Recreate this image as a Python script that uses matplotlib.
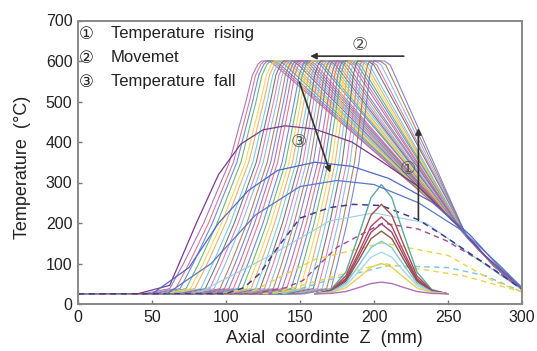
import numpy as np
import matplotlib
matplotlib.use("Agg")
import matplotlib.pyplot as plt

plt.rcParams['font.family'] = ['Liberation Sans', 'DejaVu Sans']

# ---- data ----
ambient = 25

# moving-source curves (②), left to right
move_foot = [62, 66, 69, 73, 76, 79, 83, 86, 89, 92, 96, 99, 102, 105, 108, 111, 114, 117,
             120, 123, 126, 129, 132, 135, 138, 141, 144, 147, 150, 153, 156, 159, 162, 165, 168, 171]
move_top_start = [124, 126, 128, 130, 133, 135, 137, 139, 141, 143, 145, 147, 149, 151, 154, 156, 158, 160,
                  162, 164, 166, 168, 170, 172, 175, 177, 179, 181, 183, 185, 187, 189, 192, 194, 197, 200]
move_top_end = [129, 131, 133, 136, 138, 140, 142, 145, 147, 149, 151, 153, 155, 157, 160, 162, 164, 166,
                168, 170, 172, 174, 176, 178, 181, 183, 185, 187, 189, 191, 193, 196, 198, 201, 204, 207]
move_knee_z = [254, 254, 255, 255, 255, 256, 256, 256, 257, 257, 257, 258, 258, 258, 259, 259, 259, 259,
               260, 260, 260, 260, 261, 261, 261, 261, 262, 262, 262, 262, 262, 263, 263, 263, 263, 263]
move_knee_T = [205, 203, 202, 200, 199, 197, 196, 194, 193, 191, 190, 188, 187, 185, 184, 182, 181, 180,
               179, 178, 177, 176, 175, 174, 173, 172, 171, 170, 169, 168, 167, 166, 166, 165, 164, 163]
rise_u = [0.0, 0.15, 0.37, 0.65, 0.83, 0.9, 0.96, 1.0]
rise_T = [38, 100, 200, 350, 500, 565, 592, 600]
tail_z = [272, 281, 292, 300]
tail_T = [130, 95, 58, 37]

# rising-phase peaks at z = 205 (①)
bell_center = 205
bell_peak = [295, 246, 215, 198, 180, 155, 128, 100, 54]
bell_dz = [-45, -34, -24, -15, -7, 0, 7, 15, 24, 34, 45]
bell_frac = [0, 0.04, 0.2, 0.55, 0.88, 1, 0.88, 0.55, 0.2, 0.04, 0]
bell_colors = ['#5fa8a0', '#a0504a', '#b04860', '#a04070', '#8a5a40', '#80c8e0', '#a8d8ee', '#e8d050', '#b070c0']

# broad dashed curves
navy_z = [0, 100, 112, 123, 135, 150, 170, 186, 205, 230, 249, 272, 290, 300]
navy_T = [25, 26, 40, 76, 140, 212, 238, 246, 243, 208, 164, 107, 62, 36]
purple_z = [0, 120, 140, 152, 175, 206, 230, 249, 275, 300]
purple_T = [25, 26, 40, 58, 140, 200, 185, 156, 100, 38]
yellow_z = [0, 115, 132, 160, 206, 250, 280, 300]
yellow_T = [25, 26, 58, 110, 151, 120, 58, 30]
yellow2_z = [0, 130, 150, 206, 260, 290, 300]
yellow2_T = [25, 26, 45, 100, 70, 40, 30]
cyan_z = [0, 140, 170, 210, 250, 275, 300]
cyan_T = [25, 26, 60, 95, 90, 70, 30]

# cooling curves (③)
fall1_z = [40, 62, 80, 95, 110, 125, 140, 160, 185, 202, 230, 255, 275, 290, 300]
fall1_T = [25, 46, 200, 320, 395, 430, 440, 432, 400, 360, 290, 200, 120, 70, 40]
fall2_z = [50, 75, 95, 115, 135, 160, 185, 210, 240, 265, 285, 300]
fall2_T = [25, 90, 200, 280, 330, 350, 340, 310, 250, 170, 90, 40]
fall3_z = [60, 90, 120, 150, 175, 200, 230, 260, 285, 300]
fall3_T = [25, 100, 220, 290, 305, 295, 250, 180, 95, 40]
light_z = [80, 130, 170, 200, 235, 270, 300]
light_T = [25, 120, 205, 225, 200, 110, 35]

palette = ['#9a5fb0', '#e0607a', '#4f78d0', '#5aa864', '#f0d048', '#f0a050',
           '#62c0e0', '#606060', '#d070b0', '#80b0e0', '#a07050', '#7070c0']

fig = plt.figure(figsize=(5.37, 3.51), dpi=100)
ax = fig.add_axes([78 / 537, 47 / 351, 444 / 537, 283.5 / 351])

# moving curves
for i, (f, a, b, kz, kT) in enumerate(zip(move_foot, move_top_start, move_top_end, move_knee_z, move_knee_T)):
    w = a - f
    zs = [0, f - 18] + [f + u * w for u in rise_u] + [b, b + 4, kz] + tail_z
    ts = [ambient, ambient] + rise_T + [600, 590, kT] + tail_T
    ax.plot(zs, ts, color=palette[i % len(palette)], lw=0.8, alpha=0.85)

# broad curves
ax.plot(light_z, light_T, color='#9ccde8', lw=0.8)
ax.plot(cyan_z, cyan_T, color='#7cc4dc', lw=1.0, ls=(0, (4, 3)))
ax.plot(yellow2_z, yellow2_T, color='#e8d44a', lw=1.0, ls=(0, (4, 3)))
ax.plot(yellow_z, yellow_T, color='#e8d44a', lw=1.0, ls=(0, (4, 3)))
ax.plot(purple_z, purple_T, color='#a04a90', lw=1.0, ls=(0, (4, 3)))
ax.plot(navy_z, navy_T, color='#3a3f8a', lw=1.1, ls=(0, (4, 3)))

# bells at 205
for p, c in zip(bell_peak, bell_colors):
    zs = [bell_center + d for d in bell_dz]
    ts = [ambient + fr * (p - ambient) for fr in bell_frac]
    ax.plot(zs, ts, color=c, lw=1.0)

# cooling curves
ax.plot(fall1_z, fall1_T, color='#7a3a8a', lw=0.9)
ax.plot(fall2_z, fall2_T, color='#4a6ac8', lw=0.9)
ax.plot(fall3_z, fall3_T, color='#5878c8', lw=0.9)

# arrows and on-plot markers
arr = dict(arrowstyle='-|>', color='#333333', lw=1.2, mutation_scale=9)
ax.annotate('', xy=(155, 612), xytext=(222, 612), arrowprops=arr)
ax.annotate('', xy=(230, 441), xytext=(230, 200), arrowprops=arr)
ax.annotate('', xy=(171, 318), xytext=(149, 554), arrowprops=arr)
circ = dict(family=['DejaVu Sans'], fontsize=13, color='#555555', ha='center', va='center')
ax.text(190.5, 639, '②', **circ)
ax.text(223, 334, '①', **circ)
ax.text(149, 400, '③', **circ)

# legend text
legend_labels = ['Temperature  rising', 'Movemet', 'Temperature  fall']
legend_marks = ['①', '②', '③']
for j, (m, lab) in enumerate(zip(legend_marks, legend_labels)):
    yv = 667 - j * 59
    ax.text(5.5, yv, m, family=['DejaVu Sans'], fontsize=12, color='#222222', ha='center', va='center')
    ax.text(22, yv, lab, fontsize=12, color='#222222', ha='left', va='center')

ax.set_xlim(0, 300)
ax.set_ylim(0, 700)
ax.set_xticks(np.arange(0, 301, 50))
ax.set_yticks(np.arange(0, 701, 100))
ax.tick_params(direction='in', length=3, width=1, color='#777777', labelsize=11.5,
               labelcolor='#222222', pad=4)
for s in ax.spines.values():
    s.set_color('#888888')
    s.set_linewidth(1.4)
ax.set_xlabel('Axial  coordinte  Z  (mm)', fontsize=13, color='#222222')
ax.set_ylabel('Temperature  (°C)', fontsize=13, color='#222222')
ax.xaxis.set_label_coords(0.556, -0.092)
ax.yaxis.set_label_coords(-0.105, 0.483)

fig.savefig('out.png', dpi=100)
